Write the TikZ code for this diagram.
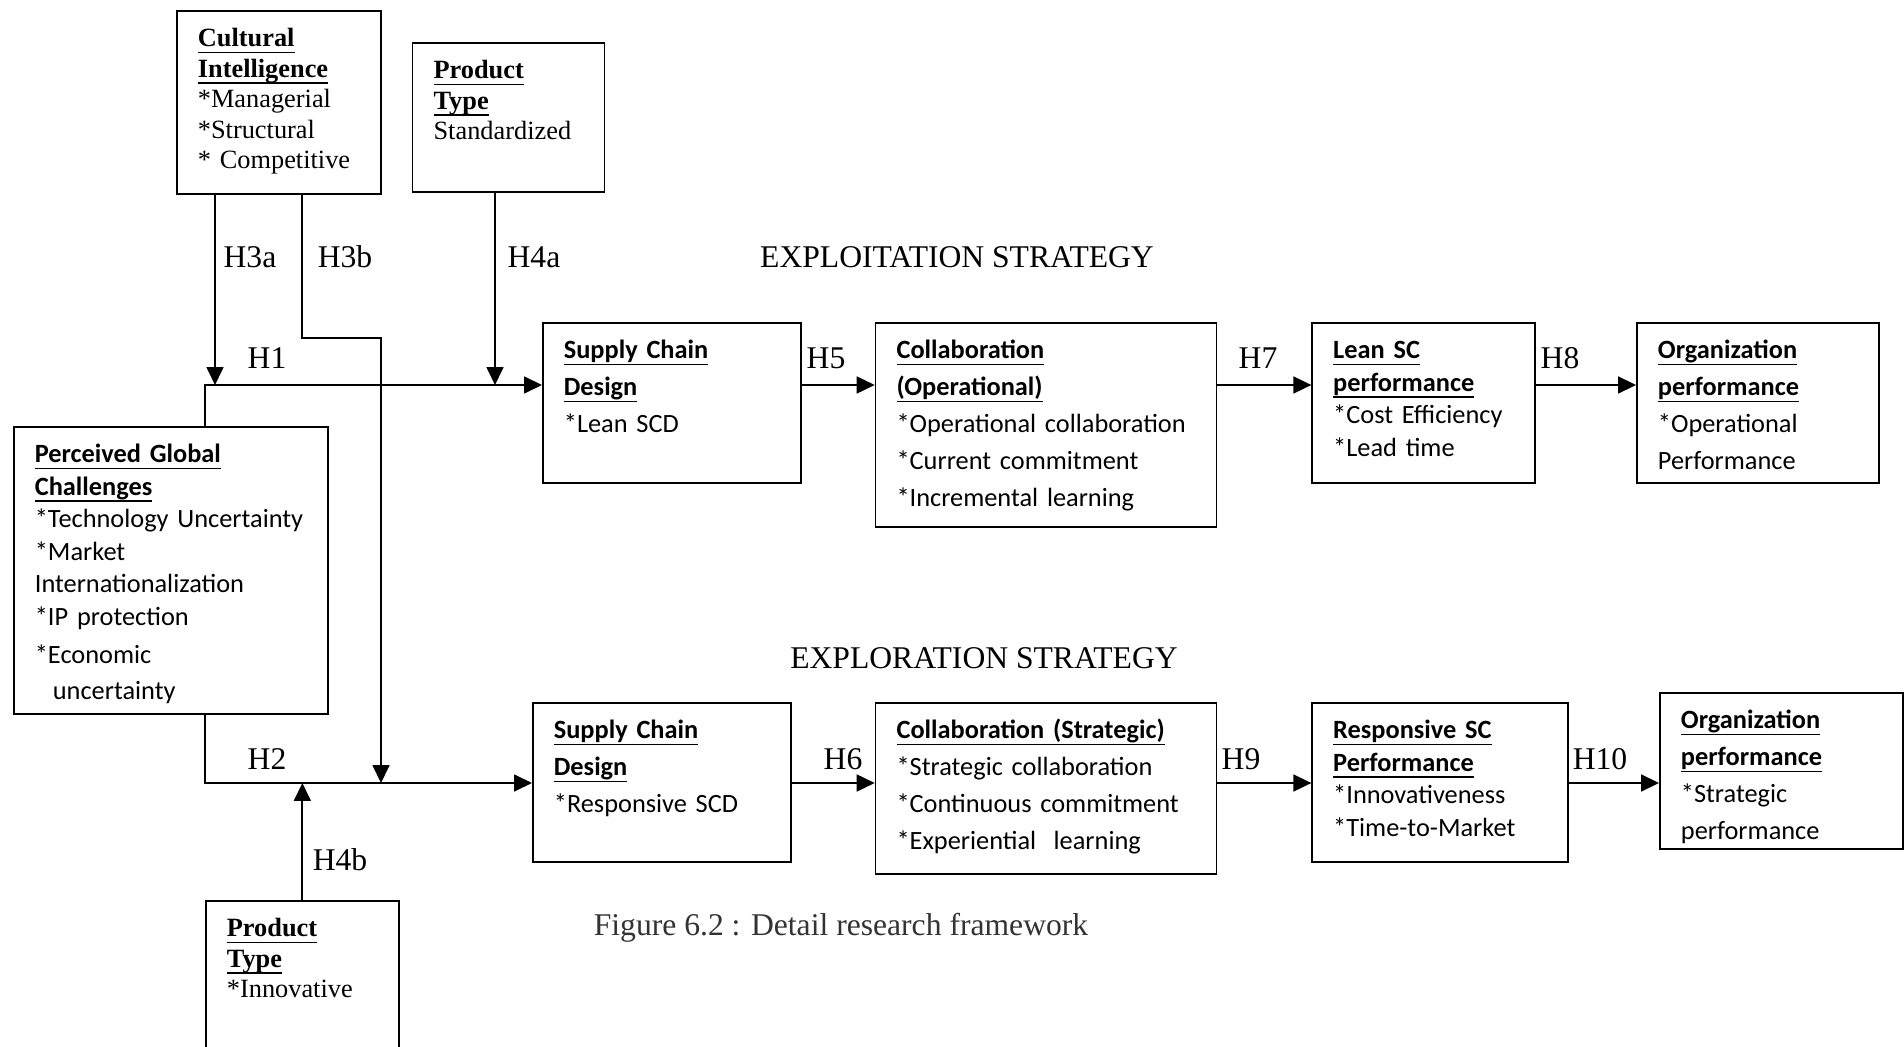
\documentclass[tikz,border=0pt]{standalone}
\usepackage{fontspec}
\setmainfont{Liberation Serif}
\newfontfamily\calib{Carlito}
\usetikzlibrary{%
  positioning,% wg. " of "
  arrows.meta%
}

% underlined heading words
\newlength{\hdlen}
\newcommand{\hd}[1]{\settowidth{\hdlen}{#1}\rlap{\rule[-0.24em]{\hdlen}{0.9pt}}#1}

\tikzset{
  box/.style={draw, line width=1pt, anchor=north west, align=left,
    inner xsep=0.42cm, inner ysep=0pt, text height=0.72cm},
  calbox/.style={box, font=\calib\fontsize{15}{21}\selectfont},
  calnarrow/.style={box, font=\calib\fontsize{15}{18.5}\selectfont},
  serbox/.style={box, font=\fontsize{15}{17.3}\selectfont},
  hyp/.style={font=\fontsize{18}{20}\selectfont, inner sep=0pt}
}

\begin{document}
\begin{tikzpicture}[x=0.02cm, y=-0.02cm, line width=1pt,
    >={Triangle[length=0.36cm, width=0.34cm]}]
    \useasboundingbox (0,0) rectangle (1904,1047);

    %moderators and antecedent
    \node[serbox, text width=3.24cm, text depth=2.94cm] (cult) at (176,10)
      {\textbf{\hd{Cultural}}\\ \textbf{\hd{Intelligence}}\\{}*Managerial\\{}*Structural\\{}* Competitive};
    \node[serbox, text width=3.00cm, text depth=2.26cm] (typeA)
      [right=0.6cm of cult.north east, anchor=north west, yshift=-0.64cm]
      {\textbf{\hd{Product}}\\ \textbf{\hd{Type}}\\ Standardized};
    \node[calnarrow, text width=5.44cm, text depth=5.02cm] (pgc) at (13,426)
      {\textbf{\hd{Perceived Global}}\\ \textbf{\hd{Challenges}}\\ \mbox{*Technology Uncertainty}\\{}*Market\\
       Internationalization\\{}*IP protection\\[3pt]{}*Economic\\[2pt] \hspace*{0.36cm}uncertainty};
    \node[serbox, text width=3.02cm, text depth=2.48cm] (typeB) at (205,900)
      {\textbf{\hd{Product}}\\ \textbf{\hd{Type}}\\{}*Innovative};

    %exploitation
    \node[calbox, text width=4.32cm, text depth=2.48cm] (scdA) at (542,322)
      {\textbf{\hd{Supply Chain}}\\ \textbf{\hd{Design}}\\{}*Lean SCD};
    \node[calbox, text width=5.98cm, text depth=3.36cm] (colA)
      [right=1.46cm of scdA.north east, anchor=north west]
      {\textbf{\hd{Collaboration}}\\ \textbf{\hd{(Operational)}}\\ \mbox{*Operational collaboration}\\{}*Current commitment\\{}*Incremental learning};
    \node[calnarrow, text width=3.62cm, text depth=2.48cm] (leanA)
      [right=1.88cm of colA.north east, anchor=north west]
      {\textbf{\hd{Lean SC}}\\ \textbf{\hd{performance}}\\{}*Cost Efficiency\\{}*Lead time};
    \node[calbox, text width=4.00cm, text depth=2.48cm] (orgA)
      [right=2.0cm of leanA.north east, anchor=north west]
      {\textbf{\hd{Organization}}\\ \textbf{\hd{performance}}\\{}*Operational\\ Performance};

    %exploration
    \node[calbox, text width=4.32cm, text depth=2.46cm] (scdB) at (532,702)
      {\textbf{\hd{Supply Chain}}\\ \textbf{\hd{Design}}\\{}*Responsive SCD};
    \node[calbox, text width=5.98cm, text depth=2.70cm] (colB)
      [right=1.66cm of scdB.north east, anchor=north west]
      {\textbf{\hd{Collaboration (Strategic)}}\\{}*Strategic collaboration\\
       \mbox{*Continuous commitment}\\{}*Experiential\hspace{0.35cm}learning};
    \node[calnarrow, text width=4.28cm, text depth=2.46cm] (resB)
      [right=1.88cm of colB.north east, anchor=north west]
      {\textbf{\hd{Responsive SC}}\\ \textbf{\hd{Performance}}\\{}*Innovativeness\\{}*Time-to-Market};
    \node[calbox, text width=4.02cm, text depth=2.40cm] (orgB)
      [right=1.8cm of resB.north east, anchor=north west, yshift=0.2cm]
      {\textbf{\hd{Organization}}\\ \textbf{\hd{performance}}\\{}*Strategic\\ performance};

    %junctions
    \coordinate (h1) at (205,385);
    \coordinate (h2) at (205,783);
    \coordinate (h3a) at (215,385);
    \coordinate (h3b) at (381,338);
    \coordinate (h4a) at (495,385);

    \draw[->] (pgc.north -| h1) -- (h1) -- (h1 -| scdA.west);
    \draw[->] (pgc.south -| h2) -- (h2) -- (h2 -| scdB.west);
    \draw[->] (cult.south -| h3a) -- (h3a);
    \draw[->] (cult.south -| typeB.north) |- (h3b) -- (h3b |- h2);
    \draw[->] (typeA.south -| h4a) -- (h4a);
    \draw[->] (typeB.north) -- (typeB.north |- h2);
    \draw[->] (scdA.east |- h1) -- (colA.west |- h1);
    \draw[->] (colA.east |- h1) -- (leanA.west |- h1);
    \draw[->] (leanA.east |- h1) -- (orgA.west |- h1);
    \draw[->] (scdB.east |- h2) -- (colB.west |- h2);
    \draw[->] (colB.east |- h2) -- (resB.west |- h2);
    \draw[->] (resB.east |- h2) -- (orgB.west |- h2);

    %labels
    \node[hyp] (l3a) at (250,257) {H3a};
    \node[hyp] (l3b) at (345,257) {H3b};
    \node[hyp] (l4a) at (534,257) {H4a};
    \node[hyp] (l1) at (267,358) {H1};
    \node[hyp] (l2) at (267,759) {H2};
    \node[hyp] (l4b) at (340,860) {H4b};
    \node[hyp] (l5) at (826,358) {H5};
    \node[hyp] (l7) at (1258,358) {H7};
    \node[hyp] (l8) at (1560,358) {H8};
    \node[hyp] (l6) at (843,759) {H6};
    \node[hyp] (l9) at (1241,759) {H9};
    \node[hyp] (l10) at (1600,759) {H10};
    \node[hyp] (exploit) at (957,257) {EXPLOITATION STRATEGY};
    \node[hyp] (explore) at (984,658) {EXPLORATION STRATEGY};
    \node[hyp, text=black!80] (caption) at (841,928) {Figure 6.2 : Detail research framework};
\end{tikzpicture}
\end{document}
